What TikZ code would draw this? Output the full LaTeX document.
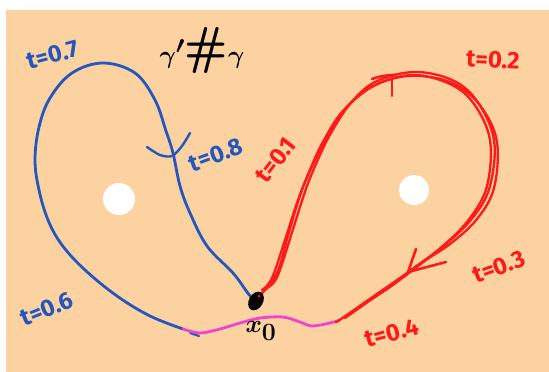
\documentclass[tikz,border=0pt]{standalone}
\usepackage{fontspec}
\setsansfont{Fira Sans}
\definecolor{peach}{HTML}{FCD2A0}
\definecolor{bl}{HTML}{2456C0}
\definecolor{rd}{HTML}{FF1A1A}
\definecolor{mg}{HTML}{EE44D0}
\begin{document}
\begin{tikzpicture}[x=1pt,y=-1pt,
  bluel/.style={draw=bl,line width=2.8pt,line cap=round,line join=round},
  redl/.style={draw=rd,line width=2.3pt,line cap=round,line join=round},
  lab/.style={font=\sffamily\bfseries\fontsize{24}{24}\selectfont,inner sep=0pt},
  hole/.style={fill=white,draw=none}]
\useasboundingbox (0,0) rectangle (549,372);
\fill[white] (0,0) rectangle (549,372);
\fill[peach] (6,10) rectangle (549,372);
% holes
\fill[hole] (119,199) circle (16);
\fill[hole] (414,190) circle (15);
% base point
\coordinate (x0) at (256,301);
% blue loop
\draw[bluel] plot[smooth,tension=0.6] coordinates {(252,298) (247,292) (233,273) (207,246) (190,213) (180,186) (173,153) (166,131) (155,100) (135,73) (103,63) (72,73) (50,98) (39,127) (35,160) (39,190) (48,220) (62,245) (85,270) (117,296) (150,316) (183,329)};
\draw[bluel,line width=2.2pt] (190,333) -- (199,336);
% tick on blue loop
\draw[bluel,line width=2.4pt] plot[smooth] coordinates {(147,147) (160,155) (172,156) (182,146) (190,133)};
% magenta
\draw[draw=mg,line width=2.8pt,line cap=round,line join=round] plot[smooth,tension=0.5] coordinates {(183,329) (200,333) (220,329) (240,323) (260,318) (283,317) (300,322) (312,326) (330,323) (340,320)};
% red loop (several strokes)
\draw[redl] plot[smooth,tension=0.6] coordinates {(258,297) (266,289) (275,281) (282,264) (294,226) (307,186) (320,155) (331,133) (350,104) (375,82) (414,72) (452,80) (477,101) (494,140) (490,186) (474,216) (447,243) (407,273) (374,296) (341,319) (336,322)};
\draw[redl] plot[smooth,tension=0.6] coordinates {(259,296) (270,284) (279,268) (289,232) (302,190) (316,158) (328,135) (346,108) (373,86) (412,75) (450,84) (474,104) (490,140) (487,186) (470,218) (444,245) (405,276) (372,299) (345,318)};
\draw[redl] plot[smooth,tension=0.6] coordinates {(262,290) (272,278) (285,240) (298,200) (312,165) (324,140) (342,112) (370,88) (400,77) (430,77) (458,86) (482,108) (497,142) (494,188) (477,219) (450,244) (418,265) (390,287) (360,306)};
% red arrowhead and ticks
\draw[redl,line width=2.6pt] (416,249) -- (408,272) -- (446,262);
\draw[redl,line width=2.6pt] (372,79) .. controls (380,76) and (388,75) .. (396,75);
\draw[redl,line width=2.6pt] (392,76) -- (392,96);
% base point blob
\fill[black,rotate around={-30:(x0)}] (x0) ellipse (7 and 10);
\fill[rd] (259,296) circle (1.5);
\node[font=\boldmath\fontsize{34}{34}\selectfont,inner sep=0pt] (x0lab) at (261,331) {$x_0$};
% title
\node[font=\boldmath\fontsize{52}{52}\selectfont,inner sep=0pt] (title) at (202,50) {$\gamma'\#\gamma$};
% blue labels
\node[lab,text=bl,rotate=15] (t7) at (53,55) {t=0.7};
\node[lab,text=bl,rotate=20] (t8) at (216,155) {t=0.8};
\node[lab,text=bl,rotate=22] (t6) at (47,309) {t=0.6};
% red labels
\node[lab,text=rd,rotate=52] (t1) at (276,160) {t=0.1};
\node[lab,text=rd,rotate=-3] (t2) at (493,60) {t=0.2};
\node[lab,text=rd,rotate=20] (t3) at (499,267) {t=0.3};
\node[lab,text=rd,rotate=15] (t4) at (392,333) {t=0.4};
\end{tikzpicture}
\end{document}
